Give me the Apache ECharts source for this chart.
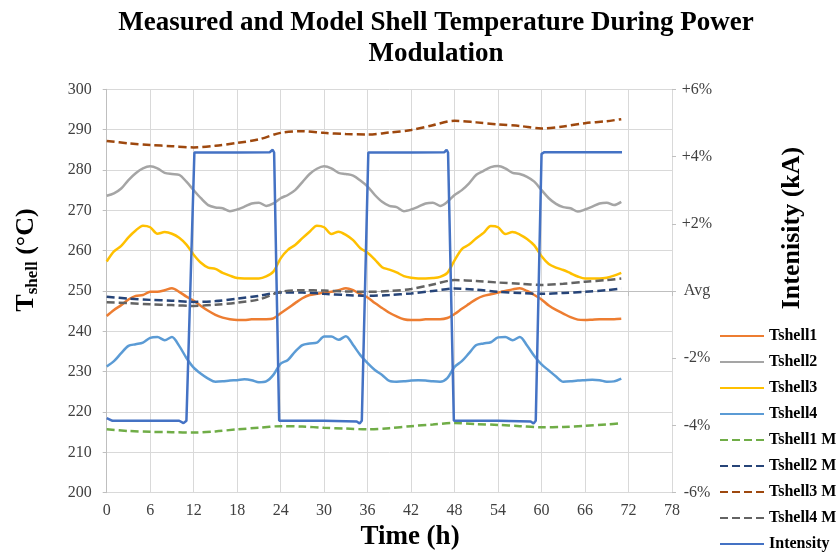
<!DOCTYPE html>
<html>
<head>
<meta charset="utf-8">
<script src="https://cdn.jsdelivr.net/npm/echarts@6/dist/echarts.min.js"></script>
<style>
  html, body { margin: 0; padding: 0; background: #fff; }
  #myChart { width: 840px; height: 553px; }
</style>
</head>
<body>
<div id="myChart"></div>
<script>
// measured shell temperatures, one value per hour (0..71 h)
const hours = [0, 1, 2, 3, 4, 5, 6, 7, 8, 9, 10, 11, 12, 13, 14, 15, 16, 17, 18, 19, 20, 21, 22, 23,
  24, 25, 26, 27, 28, 29, 30, 31, 32, 33, 34, 35, 36, 37, 38, 39, 40, 41, 42, 43, 44, 45, 46, 47,
  48, 49, 50, 51, 52, 53, 54, 55, 56, 57, 58, 59, 60, 61, 62, 63, 64, 65, 66, 67, 68, 69, 70, 71]

const tshell1 = [243.8, 245.3, 246.5, 247.9, 248.8, 249.0, 249.8, 249.8, 250.2, 250.7, 249.8, 248.6, 247.6, 246.3, 245.1, 244.1, 243.4, 243.0, 242.8, 242.8, 243.0, 243.0, 243.0, 243.2,
  244.5, 245.7, 247.0, 248.2, 249.0, 249.3, 249.6, 249.8, 250.2, 250.7, 250.2, 249.2, 248.4, 247.0, 245.8, 244.6, 243.7, 243.0, 242.8, 242.8, 243.0, 243.0, 243.0, 243.3,
  244.3, 245.6, 246.8, 248.0, 248.8, 249.2, 249.6, 250.0, 250.4, 250.7, 250.0, 249.0, 247.9, 246.4, 245.3, 244.4, 243.5, 242.9, 242.8, 242.9, 243.0, 243.0, 243.0, 243.1]

const tshell2 = [273.6, 274.2, 275.4, 277.5, 279.2, 280.4, 280.9, 280.4, 279.3, 279.0, 278.8, 277.1, 275.0, 273.0, 271.3, 270.7, 270.5, 269.8, 270.2, 270.9, 271.7, 271.9, 271.1, 271.7,
  273.0, 273.8, 275.0, 277.0, 279.0, 280.3, 280.9, 280.4, 279.3, 279.0, 278.6, 277.4, 275.9, 273.8, 272.1, 271.1, 270.8, 269.8, 270.2, 270.9, 271.7, 271.9, 271.1, 272.1,
  273.8, 275.0, 276.7, 278.8, 279.8, 280.7, 281.0, 280.4, 279.3, 279.0, 278.3, 277.1, 275.0, 273.0, 271.6, 270.8, 270.5, 269.7, 270.2, 270.9, 271.7, 271.9, 271.3, 272.1]

const tshell3 = [257.3, 259.8, 261.2, 263.3, 265.0, 266.2, 265.8, 264.2, 264.6, 264.2, 263.2, 261.5, 259.0, 257.0, 255.8, 255.5, 254.5, 253.8, 253.2, 253.1, 253.1, 253.1, 253.6, 254.8,
  258.1, 260.2, 261.4, 263.1, 264.7, 266.2, 265.8, 264.1, 264.7, 263.9, 262.6, 260.6, 259.5, 257.8, 255.9, 255.3, 254.6, 253.7, 253.3, 253.1, 253.1, 253.2, 253.5, 254.5,
  257.6, 260.4, 261.5, 263.1, 264.4, 266.1, 265.8, 264.1, 264.6, 264.0, 262.9, 261.3, 258.6, 256.7, 255.8, 255.2, 254.4, 253.6, 253.1, 253.1, 253.1, 253.3, 253.8, 254.5]

const tshell4 = [231.3, 232.6, 234.6, 236.4, 236.8, 237.2, 238.4, 238.6, 237.8, 238.6, 236.4, 233.4, 231.0, 229.5, 228.3, 227.5, 227.6, 227.8, 227.9, 228.1, 227.9, 227.4, 227.6, 229.2,
  232.0, 232.9, 235.0, 236.6, 237.0, 237.2, 238.7, 238.7, 237.9, 238.8, 236.6, 234.1, 232.1, 230.4, 229.2, 227.7, 227.5, 227.6, 227.8, 227.9, 227.8, 227.6, 227.5, 228.4,
  231.2, 232.6, 234.6, 236.6, 237.0, 237.3, 238.5, 238.6, 237.8, 238.6, 236.5, 233.9, 231.8, 230.3, 228.8, 227.5, 227.6, 227.8, 227.9, 228.0, 227.9, 227.5, 227.6, 228.3]

// model temperatures, every 3 h
const modelHours = [0, 3, 6, 9, 12, 15, 18, 21, 24, 27, 30, 33, 36, 39, 42, 45, 48, 51, 54, 57, 60, 63, 66, 69, 71]
const tshell1M = [215.7, 215.3, 215.1, 215.0, 214.9, 215.2, 215.7, 216.1, 216.5, 216.4, 216.1, 215.9, 215.7, 216.0, 216.5, 216.9, 217.3, 217.0, 216.8, 216.5, 216.2, 216.3, 216.6, 216.9, 217.2]
const tshell2M = [248.6, 248.1, 247.8, 247.6, 247.3, 247.5, 248.1, 248.8, 249.6, 249.6, 249.3, 249.0, 248.8, 249.0, 249.4, 250.0, 250.6, 250.3, 249.8, 249.5, 249.3, 249.5, 249.8, 250.2, 250.6]
const tshell3M = [287.2, 286.6, 286.2, 285.9, 285.6, 286.0, 286.7, 287.6, 289.2, 289.6, 289.2, 288.9, 288.8, 289.3, 289.9, 291.1, 292.2, 291.8, 291.3, 290.9, 290.3, 290.8, 291.6, 292.1, 292.6]
const tshell4M = [247.2, 247.0, 246.7, 246.5, 246.3, 246.6, 247.1, 247.9, 249.8, 250.2, 250.1, 249.9, 249.8, 250.0, 250.5, 251.6, 252.7, 252.5, 252.1, 251.8, 251.5, 251.8, 252.3, 252.7, 253.1]

// intensity, % from average (right axis)
const intensityHours = [0, 0.8, 5, 10, 10.6, 11.0, 12.1, 18, 22.5, 22.9, 23.1, 23.8, 30, 34.5, 34.9, 35.2, 36.1, 42, 46.6, 46.9, 47.1, 47.9, 54, 58.5, 58.9, 59.2, 60.0, 60.4, 71.1]
const intensityPct = [-3.78, -3.86, -3.86, -3.86, -3.93, -3.86, 4.12, 4.12, 4.13, 4.2, 4.12, -3.86, -3.86, -3.88, -3.94, -3.86, 4.12, 4.12, 4.13, 4.2, 4.12, -3.86, -3.86, -3.88, -3.94, -3.86, 4.08, 4.13, 4.13]

const serif = "'Liberation Serif', 'Times New Roman', serif"
const labelColor = '#404040'

function pairs (xs, ys) {
  return xs.map(function (x, i) { return [x, ys[i]] })
}

function tempLine (name, xs, ys, color, dashed) {
  return {
    name: name,
    type: 'line',
    data: pairs(xs, ys),
    symbol: 'none',
    smooth: 0.3,
    lineStyle: { color: color, width: 2.5, type: dashed ? [8, 4] : 'solid' },
    itemStyle: { color: color }
  }
}

let myChart = echarts.init(document.getElementById('myChart'))
myChart.setOption({
  animation: false,
  backgroundColor: '#fff',
  title: {
    text: 'Measured and Model Shell Temperature During Power\nModulation',
    left: 431,
    top: 3,
    textAlign: 'center',
    textStyle: { fontFamily: serif, fontSize: 27, fontWeight: 'bold', color: '#000', lineHeight: 31 }
  },
  legend: {
    orient: 'vertical',
    left: 719,
    top: 328,
    padding: 0,
    itemWidth: 44,
    itemHeight: 14,
    itemGap: 10,
    itemStyle: { opacity: 0 },
    data: ['Tshell1', 'Tshell2', 'Tshell3', 'Tshell4', 'Tshell1 M', 'Tshell2 M', 'Tshell3 M', 'Tshell4 M', 'Intensity'],
    textStyle: { fontFamily: serif, fontSize: 16, fontWeight: 'bold', color: '#000' }
  },
  grid: { left: 106.7, right: 168, top: 89.3, bottom: 60.3 },
  xAxis: {
    type: 'value',
    min: 0,
    max: 78,
    interval: 6,
    axisLine: { show: true, lineStyle: { color: '#bfbfbf' } },
    axisTick: { show: true, length: 5, lineStyle: { color: '#bfbfbf' } },
    axisLabel: { margin: 10, fontFamily: serif, fontSize: 16, color: labelColor },
    splitLine: { show: true, lineStyle: { color: '#d9d9d9' } }
  },
  yAxis: [{
    type: 'value',
    min: 200,
    max: 300,
    interval: 10,
    axisLine: { show: true, lineStyle: { color: '#bfbfbf' } },
    axisTick: { show: true, length: 4, lineStyle: { color: '#bfbfbf' } },
    axisLabel: { margin: 15, fontFamily: serif, fontSize: 16, color: labelColor },
    splitLine: { show: true, lineStyle: { color: '#d9d9d9' } }
  }, {
    type: 'value',
    position: 'right',
    min: -6,
    max: 6,
    interval: 2,
    axisLine: { show: true, lineStyle: { color: '#d9d9d9' } },
    axisTick: { show: true, length: 4, lineStyle: { color: '#bfbfbf' } },
    axisLabel: {
      margin: 25,
      align: 'center',
      fontFamily: serif,
      fontSize: 16,
      color: labelColor,
      formatter: function (v) {
        if (v === 0) return 'Avg'
        return (v > 0 ? '+' : '') + v + '%'
      }
    },
    splitLine: { show: false }
  }],
  graphic: [{
    type: 'text',
    x: 26,
    y: 260,
    rotation: Math.PI / 2,
    style: {
      text: '{a|T}{b|shell}{a| (°C)}',
      align: 'center',
      verticalAlign: 'middle',
      textAlign: 'center',
      textVerticalAlign: 'middle',
      rich: {
        a: { fontFamily: serif, fontSize: 26, fontWeight: 'bold', color: '#000', lineHeight: 30 },
        b: { fontFamily: serif, fontSize: 17, fontWeight: 'bold', color: '#000', lineHeight: 30, verticalAlign: 'bottom', padding: [8, 0, 0, 0] }
      }
    }
  }, {
    type: 'text',
    x: 792,
    y: 228,
    rotation: Math.PI / 2,
    style: {
      text: 'Intenisity (kA)',
      align: 'center',
      verticalAlign: 'middle',
      textAlign: 'center',
      textVerticalAlign: 'middle',
      fontFamily: serif,
      fontSize: 26,
      fontWeight: 'bold',
      fill: '#000'
    }
  }, {
    type: 'text',
    x: 410,
    y: 537,
    style: {
      text: 'Time (h)',
      align: 'center',
      verticalAlign: 'middle',
      textAlign: 'center',
      textVerticalAlign: 'middle',
      fontFamily: serif,
      fontSize: 27,
      fontWeight: 'bold',
      fill: '#000'
    }
  }],
  series: [
    tempLine('Tshell1', hours, tshell1, '#ED7D31', false),
    tempLine('Tshell2', hours, tshell2, '#A5A5A5', false),
    tempLine('Tshell3', hours, tshell3, '#FFC000', false),
    tempLine('Tshell4', hours, tshell4, '#5B9BD5', false),
    tempLine('Tshell1 M', modelHours, tshell1M, '#70AD47', true),
    tempLine('Tshell2 M', modelHours, tshell2M, '#264478', true),
    tempLine('Tshell3 M', modelHours, tshell3M, '#9E480E', true),
    tempLine('Tshell4 M', modelHours, tshell4M, '#636363', true),
    {
      name: 'Intensity',
      type: 'line',
      yAxisIndex: 1,
      data: pairs(intensityHours, intensityPct),
      symbol: 'none',
      lineStyle: { color: '#4472C4', width: 2.5 },
      itemStyle: { color: '#4472C4' }
    }
  ]
})
</script>
</body>
</html>
